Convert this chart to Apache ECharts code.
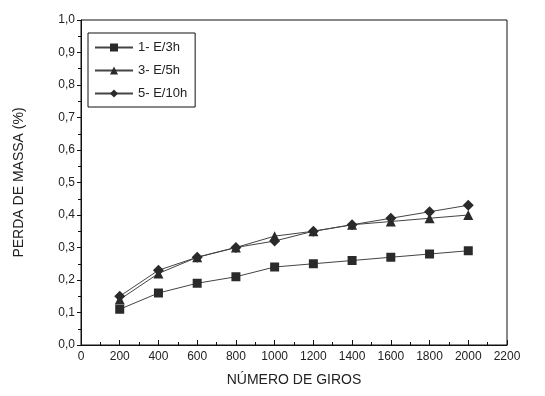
<!DOCTYPE html>
<html>
<head>
<meta charset="utf-8">
<script src="https://cdn.jsdelivr.net/npm/echarts@6/dist/echarts.min.js"></script>
<style>
html, body { margin: 0; padding: 0; background: #fff; }
#ct1 { width: 545px; height: 396px; }
</style>
</head>
<body>
<div id="ct1"></div>
<script>
var giros = [200, 400, 600, 800, 1000, 1200, 1400, 1600, 1800, 2000];
var perda3h = [0.11, 0.16, 0.19, 0.21, 0.24, 0.25, 0.26, 0.27, 0.28, 0.29];
var perda5h = [0.14, 0.22, 0.27, 0.30, 0.335, 0.35, 0.37, 0.38, 0.39, 0.40];
var perda10h = [0.15, 0.23, 0.27, 0.30, 0.32, 0.35, 0.37, 0.39, 0.41, 0.43];
var nomes = ['1- E/3h', '3- E/5h', '5- E/10h'];

function pares(ys) {
    var out = [];
    for (var i = 0; i < giros.length; i++) {
        out.push([giros[i], ys[i]]);
    }
    return out;
}

var fonte = 'Liberation Sans, Arial, sans-serif';
var cor = '#2a2a2a';

function serie(nome, ys, simbolo, tam) {
    return {
        name: nome,
        type: 'line',
        data: pares(ys),
        symbol: simbolo,
        symbolSize: tam,
        lineStyle: { color: '#444', width: 1 },
        itemStyle: { color: cor },
        emphasis: { disabled: true }
    };
}

var option1 = {
    animation: false,
    backgroundColor: '#fff',
    grid: {
        left: 81, right: 38, top: 20, bottom: 51,
        show: true, borderColor: '#111', borderWidth: 1
    },
    legend: {
        orient: 'vertical',
        left: 88, top: 33,
        padding: [8, 8, 7, 6],
        itemGap: 10,
        itemWidth: 38,
        itemHeight: 10,
        borderColor: '#111',
        borderWidth: 1,
        borderRadius: 0,
        textStyle: { fontFamily: fonte, fontSize: 13, color: '#222' },
        data: nomes
    },
    xAxis: {
        type: 'value',
        min: 0, max: 2200, interval: 200,
        name: 'NÚMERO DE GIROS',
        nameLocation: 'middle',
        nameGap: 28,
        nameTextStyle: { fontFamily: fonte, fontSize: 14, color: '#222' },
        axisLine: { lineStyle: { color: '#111', width: 1 } },
        axisTick: { inside: true, length: 5, lineStyle: { color: '#111' } },
        minorTick: { show: true, splitNumber: 2, length: 3, lineStyle: { color: '#111' } },
        axisLabel: {
            fontFamily: fonte, fontSize: 12, color: '#222', margin: 6,
            formatter: function (v) { return String(v); }
        },
        splitLine: { show: false }
    },
    yAxis: {
        type: 'value',
        min: 0, max: 1, interval: 0.1,
        name: 'PERDA DE MASSA (%)',
        nameLocation: 'middle',
        nameGap: 55,
        nameTextStyle: { fontFamily: fonte, fontSize: 14, color: '#222' },
        axisLine: { show: true, lineStyle: { color: '#111', width: 1 } },
        axisTick: { length: 4, lineStyle: { color: '#111' } },
        minorTick: { show: true, splitNumber: 2, length: 3, lineStyle: { color: '#111' } },
        axisLabel: {
            fontFamily: fonte, fontSize: 12, color: '#222', margin: 6,
            formatter: function (v) { return v.toFixed(1).replace('.', ','); }
        },
        splitLine: { show: false }
    },
    series: [
        serie(nomes[0], perda3h, 'rect', 9),
        serie(nomes[1], perda5h, 'triangle', 10),
        serie(nomes[2], perda10h, 'diamond', 11)
    ]
};

var myChart1 = echarts.init(document.getElementById('ct1'));
myChart1.setOption(option1, true);
</script>
</body>
</html>
